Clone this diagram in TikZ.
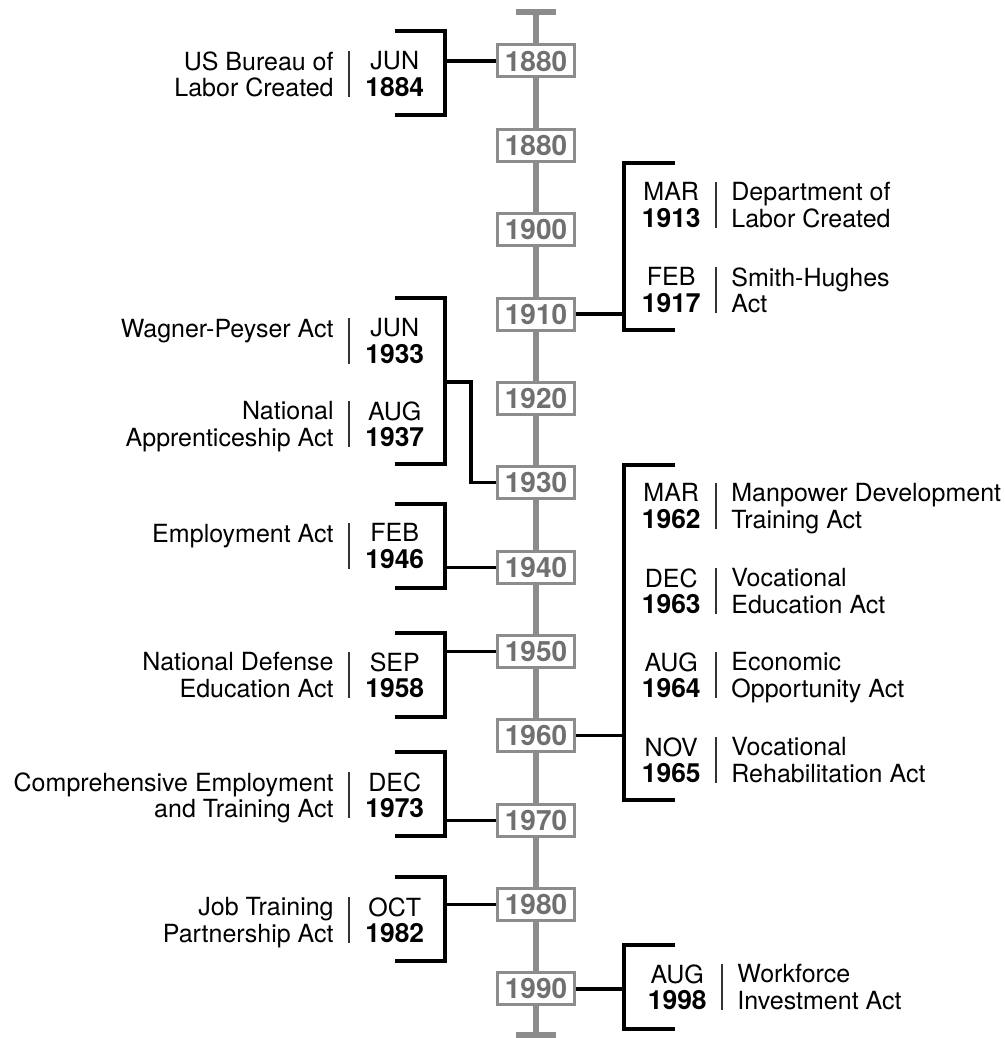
\documentclass[tikz,border=0pt]{standalone}
\usepackage{fontspec}
\setmainfont{TeX Gyre Heros}
\usetikzlibrary{positioning}

\definecolor{axisgray}{HTML}{8C8C8C}
\definecolor{yeargray}{HTML}{707070}

\newcommand{\yrb}[1]{{\fontsize{13.2}{13.4}\selectfont\bfseries #1}}

\tikzset{
  yearbox/.style={draw=axisgray, line width=1.5pt, fill=white, minimum width=38.5pt,
    minimum height=16pt, inner sep=0pt, text=yeargray,
    font=\fontsize{14}{14}\selectfont\bfseries},
  axis/.style={draw=axisgray, line width=3.3pt},
  brk/.style={draw=black, line width=1.6pt},
  link/.style={draw=black, line width=1.6pt},
  sepbar/.style={fill=black!80, minimum width=0.6pt, minimum height=23pt, inner sep=0pt, anchor=north},
  lbl/.style={inner sep=0pt, font=\fontsize{12.5}{13.4}\selectfont,
    execute at begin node=\strut, execute at end node=\strut},
  datelbl/.style={lbl, align=center},
  descl/.style={lbl, align=right},
  descr/.style={lbl, align=left},
}

\begin{document}
\begin{tikzpicture}[x=0.5pt, y=-0.5pt]
    \useasboundingbox (0,0) rectangle (1005,1038);

    % axis
    \coordinate (axtop) at (536,12);
    \coordinate (axbot) at (536,1035);
    \draw[axis] (axtop) -- (axbot);
    \draw[axis] ([xshift=-10pt]axtop) -- ([xshift=10pt]axtop);
    \draw[axis] ([xshift=-10pt]axbot) -- ([xshift=10pt]axbot);

    \foreach \yr [count=\i] in {1880,1880,1900,1910,1920,1930,1940,1950,1960,1970,1980,1990}
        \node[yearbox] (y\i) at (536,{61+84.36*(\i-1)}) {\yr};

    % left side
    \node[sepbar] (barA) at (349,51) {};
    \node[datelbl, right=7.5pt of barA.north east, anchor=north west] (dateA) {JUN\\\yrb{1884}};
    \node[descl, left=7pt of barA.north west, anchor=north east] (descA) {US Bureau of\\Labor Created};

    \node[sepbar] (barC1) at (349,318) {};
    \node[datelbl, right=7.5pt of barC1.north east, anchor=north west] (dateC1) {JUN\\\yrb{1933}};
    \node[descl, left=7pt of barC1.north west, anchor=north east] (descC1) {Wagner-Peyser Act};

    \node[sepbar] (barC2) at (349,401) {};
    \node[datelbl, right=7.5pt of barC2.north east, anchor=north west] (dateC2) {AUG\\\yrb{1937}};
    \node[descl, left=7pt of barC2.north west, anchor=north east] (descC2) {National\\Apprenticeship Act};

    \node[sepbar] (barD) at (349,523) {};
    \node[datelbl, right=7.5pt of barD.north east, anchor=north west] (dateD) {FEB\\\yrb{1946}};
    \node[descl, left=7pt of barD.north west, anchor=north east] (descD) {Employment Act};

    \node[sepbar] (barE) at (349,652) {};
    \node[datelbl, right=7.5pt of barE.north east, anchor=north west] (dateE) {SEP\\\yrb{1958}};
    \node[descl, left=7pt of barE.north west, anchor=north east] (descE) {National Defense\\Education Act};

    \node[sepbar] (barF) at (349,772) {};
    \node[datelbl, right=7.5pt of barF.north east, anchor=north west] (dateF) {DEC\\\yrb{1973}};
    \node[descl, left=7pt of barF.north west, anchor=north east] (descF) {Comprehensive Employment\\and Training Act};

    \node[sepbar] (barG) at (349,897) {};
    \node[datelbl, right=7.5pt of barG.north east, anchor=north west] (dateG) {OCT\\\yrb{1982}};
    \node[descl, left=7pt of barG.north west, anchor=north east] (descG) {Job Training\\Partnership Act};

    % right side
    \node[sepbar] (barB1) at (716,182) {};
    \node[datelbl, left=7pt of barB1.north west, anchor=north east] (dateB1) {MAR\\\yrb{1913}};
    \node[descr, right=7pt of barB1.north east, anchor=north west] (descB1) {Department of\\Labor Created};

    \node[sepbar] (barB2) at (716,267) {};
    \node[datelbl, left=7pt of barB2.north west, anchor=north east] (dateB2) {FEB\\\yrb{1917}};
    \node[descr, right=7pt of barB2.north east, anchor=north west] (descB2) {Smith-Hughes\\Act};

    \node[sepbar] (barI1) at (716,483) {};
    \node[datelbl, left=7pt of barI1.north west, anchor=north east] (dateI1) {MAR\\\yrb{1962}};
    \node[descr, right=7pt of barI1.north east, anchor=north west] (descI1) {Manpower Development\\Training Act};

    \node[sepbar] (barI2) at (716,568) {};
    \node[datelbl, left=7pt of barI2.north west, anchor=north east] (dateI2) {DEC\\\yrb{1963}};
    \node[descr, right=7pt of barI2.north east, anchor=north west] (descI2) {Vocational\\Education Act};

    \node[sepbar] (barI3) at (716,652) {};
    \node[datelbl, left=7pt of barI3.north west, anchor=north east] (dateI3) {AUG\\\yrb{1964}};
    \node[descr, right=7pt of barI3.north east, anchor=north west] (descI3) {Economic\\Opportunity Act};

    \node[sepbar] (barI4) at (716,737) {};
    \node[datelbl, left=7pt of barI4.north west, anchor=north east] (dateI4) {NOV\\\yrb{1965}};
    \node[descr, right=7pt of barI4.north east, anchor=north west] (descI4) {Vocational\\Rehabilitation Act};

    \node[sepbar] (barH) at (722,964) {};
    \node[datelbl, left=7pt of barH.north west, anchor=north east] (dateH) {AUG\\\yrb{1998}};
    \node[descr, right=7pt of barH.north east, anchor=north west] (descH) {Workforce\\Investment Act};

    % brackets and links
    \draw[brk] (395,31) -| (445,115) -- (395,115);
    \coordinate (kA) at (445,73);
    \draw[link] (kA |- y1) -- (y1.west);

    \draw[brk] (395,298) -| (445,464) -- (395,464);
    \coordinate (kC) at (445,382);
    \coordinate (eC) at (471,382);
    \draw[link] (kC) -- (eC) |- (y6.west);

    \draw[brk] (395,504) -| (445,588) -- (395,588);
    \coordinate (kD) at (445,546);
    \draw[link] (kD |- y7) -- (y7.west);

    \draw[brk] (395,633) -| (445,717) -- (395,717);
    \coordinate (kE) at (445,675);
    \draw[link] (kE |- y8) -- (y8.west);

    \draw[brk] (395,752) -| (445,836) -- (395,836);
    \coordinate (kF) at (445,794);
    \draw[link] (kF |- y10) -- (y10.west);

    \draw[brk] (395,877) -| (445,961) -- (395,961);
    \coordinate (kG) at (445,919);
    \draw[link] (kG |- y11) -- (y11.west);

    \draw[brk] (675,163) -| (624,330) -- (675,330);
    \coordinate (kB) at (624,246);
    \draw[link] (kB |- y4) -- (y4.east);

    \draw[brk] (675,465) -| (624,800) -- (675,800);
    \coordinate (kI) at (624,632);
    \draw[link] (kI |- y9) -- (y9.east);

    \draw[brk] (675,945) -| (624,1029) -- (675,1029);
    \coordinate (kH) at (624,987);
    \draw[link] (kH |- y12) -- (y12.east);
\end{tikzpicture}
\end{document}
